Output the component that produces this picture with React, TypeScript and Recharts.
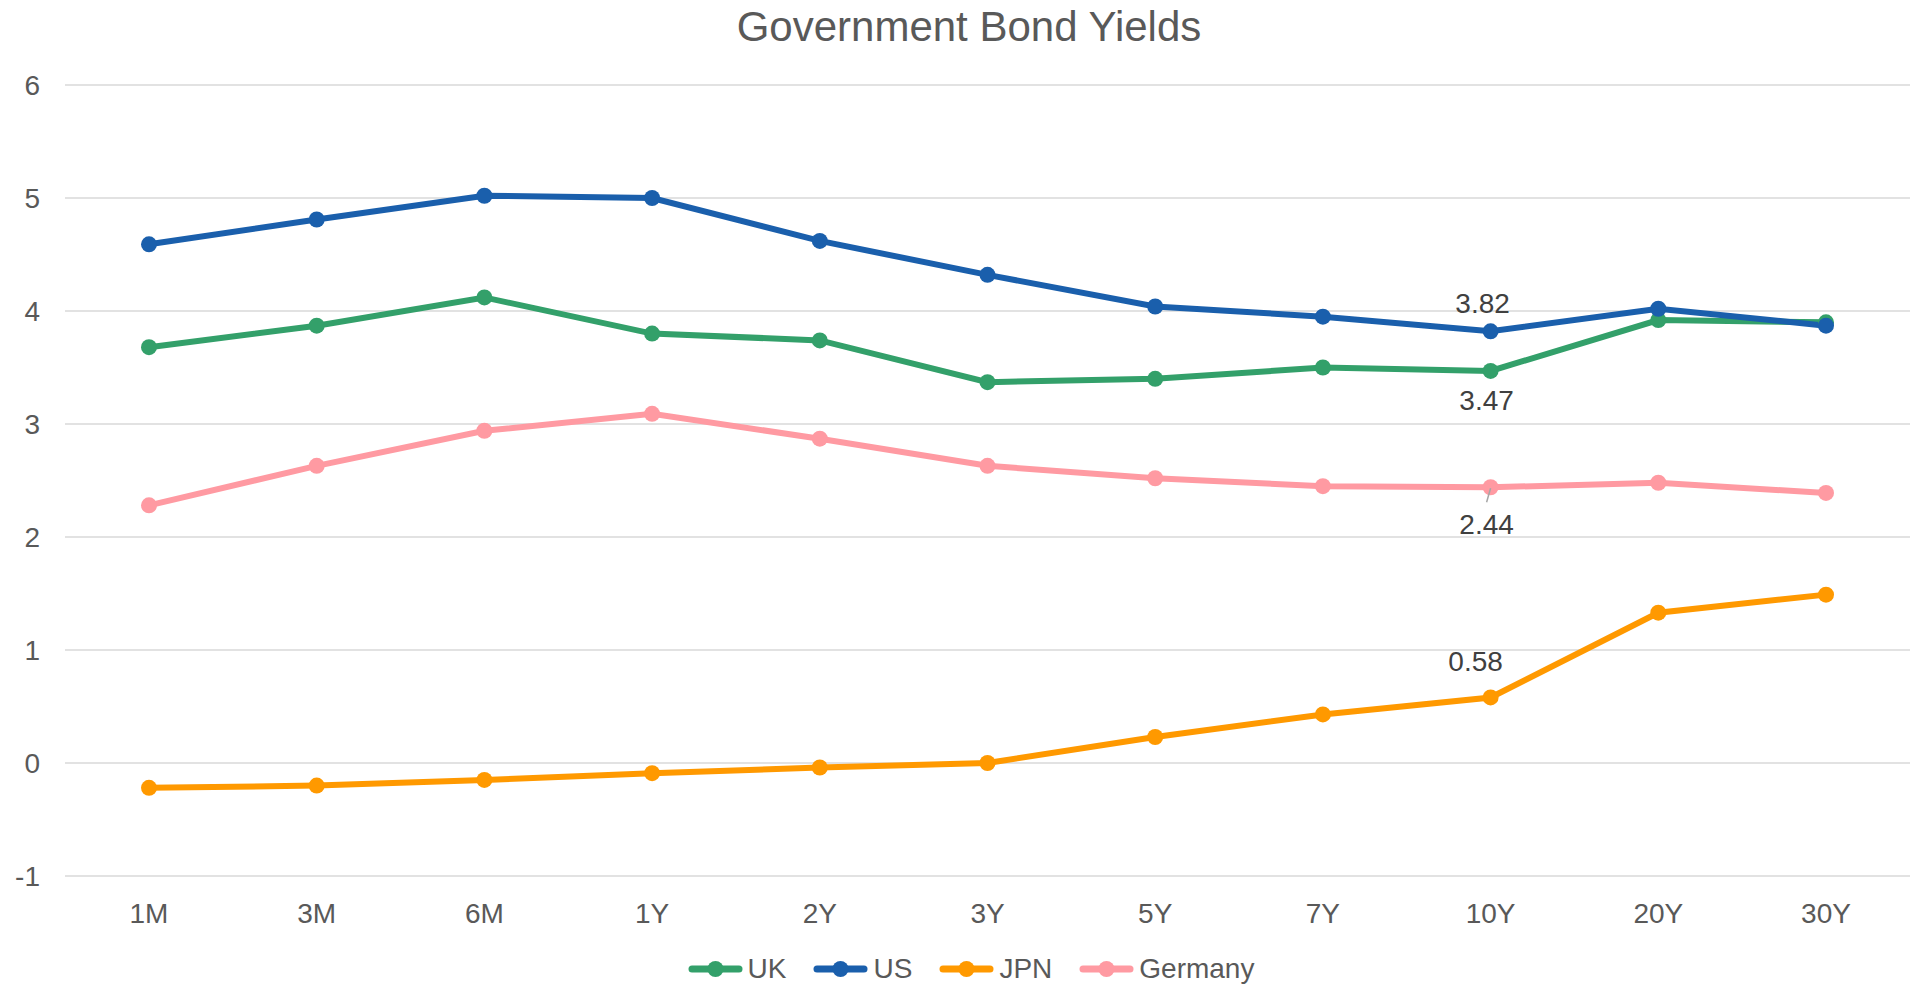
import { LineChart, Line, XAxis, YAxis, CartesianGrid, Legend } from "recharts";

const TENORS = ["1M", "3M", "6M", "1Y", "2Y", "3Y", "5Y", "7Y", "10Y", "20Y", "30Y"];
const UK = [3.68, 3.87, 4.12, 3.8, 3.74, 3.37, 3.4, 3.5, 3.47, 3.92, 3.9];
const US = [4.59, 4.81, 5.02, 5.0, 4.62, 4.32, 4.04, 3.95, 3.82, 4.02, 3.87];
const JPN = [-0.22, -0.2, -0.15, -0.09, -0.04, 0.0, 0.23, 0.43, 0.58, 1.33, 1.49];
const GERMANY = [2.28, 2.63, 2.94, 3.09, 2.87, 2.63, 2.52, 2.45, 2.44, 2.48, 2.39];
const Y_TICKS = [-1, 0, 1, 2, 3, 4, 5, 6];

const SERIES = [
  { key: "UK", values: UK, color: "#33A06A" },
  { key: "US", values: US, color: "#1A5FAC" },
  { key: "JPN", values: JPN, color: "#FF9900" },
  { key: "Germany", values: GERMANY, color: "#FF9AA2" },
];

// only the 10Y point gets a value label, placed like the original
const LABEL_INDEX = 8;
const LABEL_OFFSET: Record<string, { dx: number; dy: number; leader?: boolean }> = {
  UK: { dx: -4, dy: 29 },
  US: { dx: -8, dy: -28 },
  JPN: { dx: -15, dy: -37 },
  Germany: { dx: -4, dy: 37, leader: true },
};

const FONT = "'Liberation Sans', Arial, sans-serif";

const data = TENORS.map((t, i) => {
  const row: Record<string, string | number> = { tenor: t };
  SERIES.forEach((s) => (row[s.key] = s.values[i]));
  return row;
});

function makeLabel(key: string) {
  return (props: any) => {
    const { x, y, index, value } = props;
    if (index !== LABEL_INDEX) return null;
    const o = LABEL_OFFSET[key];
    return (
      <g>
        {o.leader && (
          <line x1={x} y1={y + 1} x2={x - 4} y2={y + 15} stroke="#a6a6a6" strokeWidth={1.5} />
        )}
        <text
          x={x + o.dx}
          y={y + o.dy}
          dy="0.36em"
          textAnchor="middle"
          fontSize={28}
          fontFamily={FONT}
          fill="#404040"
        >
          {Number(value).toFixed(2)}
        </text>
      </g>
    );
  };
}

function LegendContent() {
  return (
    <div
      style={{
        display: "flex",
        justifyContent: "center",
        alignItems: "center",
        height: 30,
        paddingLeft: 32,
        fontFamily: FONT,
        fontSize: 28,
        color: "#595959",
      }}
    >
      {SERIES.map((s, i) => (
        <div
          key={s.key}
          style={{ display: "flex", alignItems: "center", marginRight: i < SERIES.length - 1 ? 27 : 0 }}
        >
          <svg width={55} height={20} style={{ marginRight: 5 }}>
            <line x1={4} y1={10} x2={51} y2={10} stroke={s.color} strokeWidth={7} strokeLinecap="round" />
            <circle cx={27.5} cy={10} r={8} fill={s.color} />
          </svg>
          <span>{s.key}</span>
        </div>
      ))}
    </div>
  );
}

export default function App() {
  return (
    <div style={{ position: "absolute", left: 0, top: 0, width: 1912, height: 984, background: "#fff" }}>
      <div
        style={{
          position: "absolute",
          top: 3,
          left: 0,
          width: 1912,
          paddingLeft: 26,
          boxSizing: "border-box",
          textAlign: "center",
          fontFamily: FONT,
          fontSize: 42,
          color: "#595959",
          lineHeight: "48px",
        }}
      >
        Government Bond Yields
      </div>
      <LineChart width={1912} height={984} data={data} margin={{ top: 85, right: 2, bottom: 0, left: 0 }}>
        <CartesianGrid vertical={false} stroke="#D9D9D9" strokeWidth={1.5} />
        <XAxis
          dataKey="tenor"
          axisLine={false}
          tickLine={false}
          tickMargin={21}
          height={78}
          padding={{ left: 84, right: 84 }}
          interval={0}
          tick={{ fill: "#595959", fontSize: 28, fontFamily: FONT }}
        />
        <YAxis
          domain={[-1, 6]}
          ticks={Y_TICKS}
          width={65}
          axisLine={false}
          tickLine={false}
          tickMargin={19}
          tick={{ fill: "#595959", fontSize: 28, fontFamily: FONT }}
        />
        <Legend verticalAlign="bottom" height={30} content={() => <LegendContent />} />
        {SERIES.map((s) => (
          <Line
            key={s.key}
            type="linear"
            dataKey={s.key}
            stroke={s.color}
            strokeWidth={6}
            dot={{ r: 8, fill: s.color, stroke: "none" }}
            activeDot={false}
            label={makeLabel(s.key)}
            isAnimationActive={false}
          />
        ))}
      </LineChart>
    </div>
  );
}
